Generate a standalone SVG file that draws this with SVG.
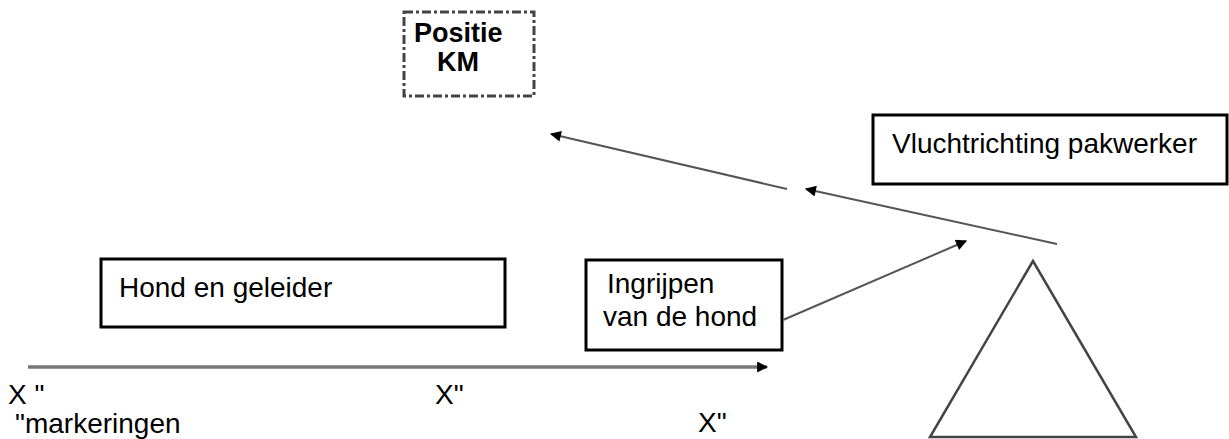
<svg xmlns="http://www.w3.org/2000/svg" width="1229" height="439" viewBox="0 0 1229 439">
  <style>
    .box { fill: #fff; stroke: #000; stroke-width: 3; }
    .dash { fill: #fff; stroke: #444; stroke-width: 3; stroke-dasharray: 9 3 3 3; }
    .t { font-family: "Liberation Sans", Arial, sans-serif; font-size: 28px; fill: #000; }
    .b { font-weight: bold; font-size: 27px; }
    .ln { fill: none; stroke: #555; stroke-width: 2; }
    .hz { fill: none; stroke: #777; stroke-width: 3.5; }
  </style>
  <defs>
    <marker id="ah" viewBox="0 0 10 10" refX="9" refY="5" markerWidth="13" markerHeight="11" markerUnits="userSpaceOnUse" orient="auto">
      <path d="M0,0 L10,5 L0,10 z" fill="#000"/>
    </marker>
  </defs>

  <g id="positie-km">
    <rect class="dash" x="404" y="12" width="130" height="84"/>
    <text class="t b" x="414" y="42">Positie</text>
    <text class="t b" x="437" y="71">KM</text>
  </g>

  <g id="vluchtrichting">
    <rect class="box" x="873" y="115" width="354" height="69"/>
    <text class="t" x="892" y="153">Vluchtrichting pakwerker</text>
  </g>

  <g id="hond-en-geleider">
    <rect class="box" x="101" y="259" width="404" height="68"/>
    <text class="t" x="119" y="297">Hond en geleider</text>
  </g>

  <g id="ingrijpen">
    <rect class="box" x="586" y="260" width="196" height="90"/>
    <text class="t" x="607" y="293">Ingrijpen</text>
    <text class="t" x="603" y="326">van de hond</text>
  </g>

  <g id="pakwerker">
    <polygon points="1033,261 930,437 1136,437" fill="none" stroke="#444" stroke-width="2.5"/>
  </g>

  <g id="connectors">
    <line class="hz" x1="28" y1="367" x2="767" y2="367" marker-end="url(#ah)"/>
    <line class="ln" x1="783" y1="320" x2="966" y2="241" marker-end="url(#ah)"/>
    <line class="ln" x1="1057" y1="244" x2="806" y2="189" marker-end="url(#ah)"/>
    <line class="ln" x1="787" y1="189" x2="551" y2="134" marker-end="url(#ah)"/>
  </g>

  <g id="markeringen">
    <text class="t" x="8" y="404">X "</text>
    <text class="t" x="15" y="433">"markeringen</text>
    <text class="t" x="435" y="404">X"</text>
    <text class="t" x="698" y="432">X"</text>
  </g>
</svg>
